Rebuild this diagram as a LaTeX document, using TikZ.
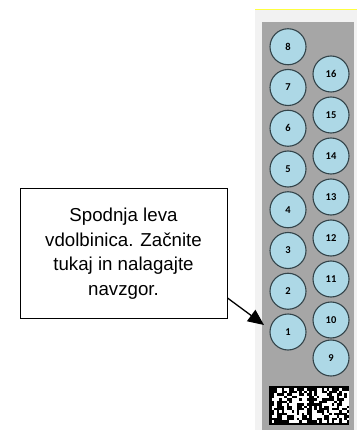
\documentclass[tikz,border=0pt]{standalone}
\usepackage{fontspec}
\setmainfont{Liberation Sans}
\newfontfamily\digitfont{Carlito}
\usetikzlibrary{arrows.meta,calc}
\definecolor{panelgray}{HTML}{A6A6A6}
\definecolor{panellight}{HTML}{F2F2F2}
\definecolor{holefill}{HTML}{ADD8E6}
\definecolor{holeedge}{HTML}{33444A}
\definecolor{lineyellow}{HTML}{FFFF40}
\tikzset{
  hole/.style={circle, draw=holeedge, line width=1.1pt, fill=holefill, minimum size=36pt, inner sep=0pt, font=\digitfont\bfseries\fontsize{10.5}{11}\selectfont},
  callout/.style={draw=black, line width=1pt, fill=white, align=center, inner sep=0pt, font=\fontsize{18.7}{24.5}\selectfont},
  pointer/.style={line width=1.3pt, -{Triangle[length=16pt,width=14pt]}}
}
\begin{document}
\begin{tikzpicture}[x=1pt,y=-1pt]
\useasboundingbox (0,0) rectangle (357,430);
\fill[white] (0,0) rectangle (357,430);
% panels
\fill[panellight] (255,10) rectangle (357,430);
\draw[lineyellow, line width=1pt] (255,9.5) -- (357,9.5);
\fill[panelgray] (262,22) rectangle (354,430);
% left column 1..8
\foreach \k in {1,...,8} {
  \node[hole] (c\k) at (288, {332-(\k-1)*40.75}) {\k};
}
% right column 10..16
\foreach \k in {10,...,16} {
  \node[hole] (c\k) at (331, {74+(16-\k)*41}) {\k};
}
\node[hole] (c9) at (331,358) {9};
% barcode
\fill[white] (269,386) rectangle (349,425);
\pgfmathsetseed{12}
\foreach \i in {0,...,31} {
  \foreach \j in {0,...,15} {
    \pgfmathrandominteger{\r}{0}{1}
    \ifnum\r=1
      \fill[black] ({269+\i*2.5},{386+\j*2.4375}) rectangle ++(2.5,2.4375);
    \fi
  }
}
\fill[black] (269,386) rectangle (349,388.4);
\fill[black] (269,386) rectangle (271.5,425);
\fill[black] (309,386) rectangle (311.5,425);
\fill[black] (269,422.6) rectangle (349,425);
% callout
\node[callout, minimum width=207pt, minimum height=129pt] (note) at (123.5,253.5)
  {Spodnja leva\\vdolbinica. Začnite\\tukaj in nalagajte\\navzgor.};
\coordinate (tip) at (264,325);
\draw[pointer] ([yshift=-44.5pt]note.east) -- (tip);
\end{tikzpicture}
\end{document}
